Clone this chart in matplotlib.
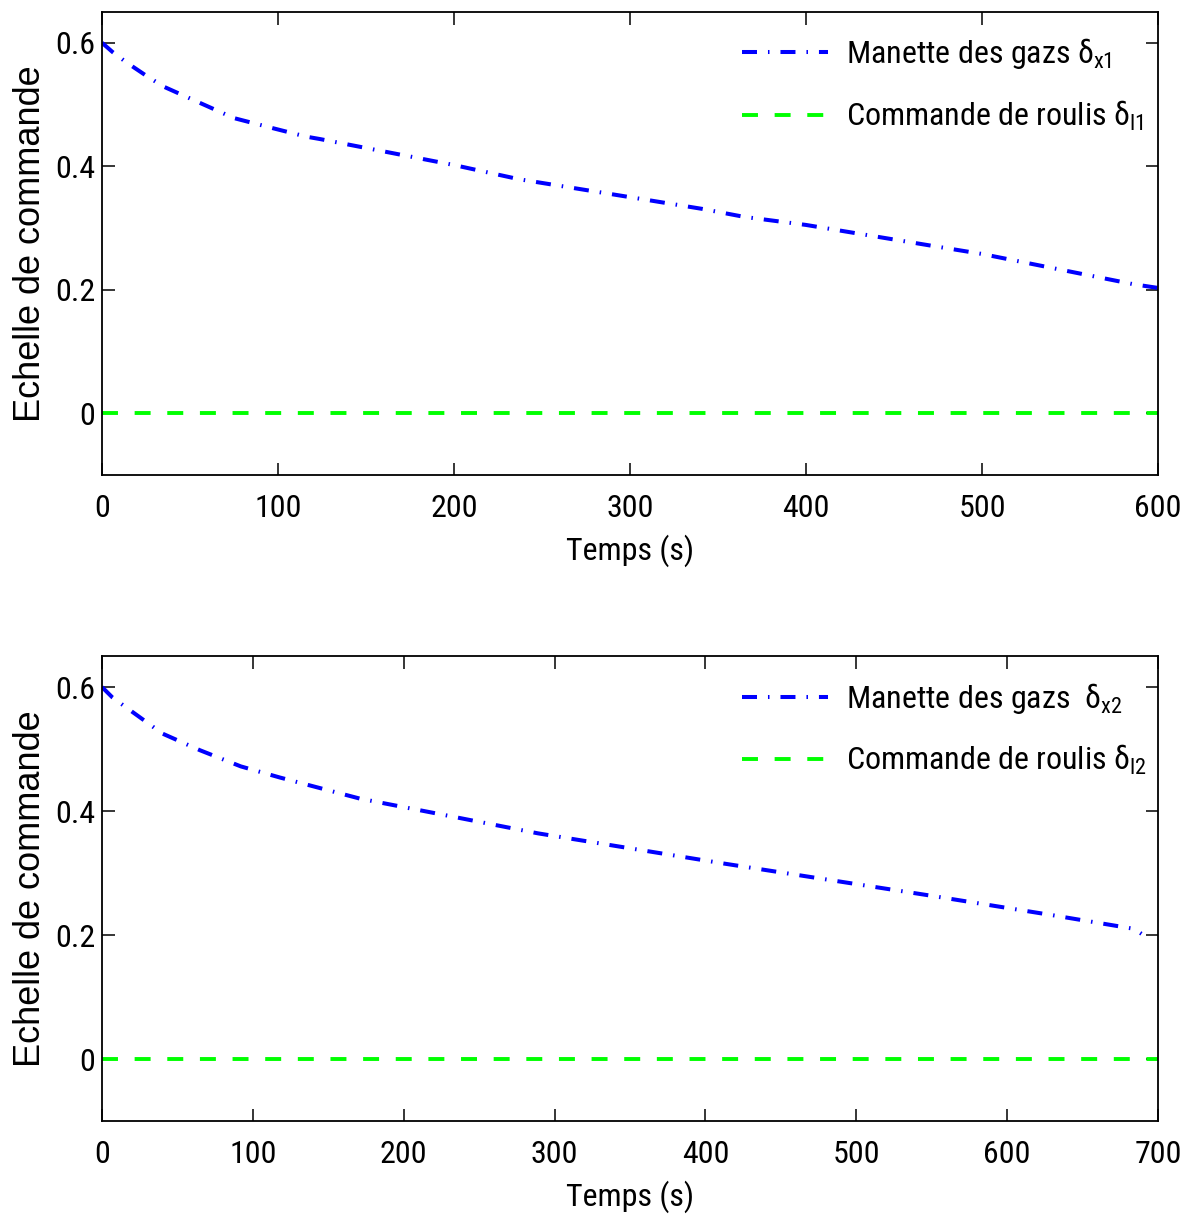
import matplotlib
matplotlib.use("Agg")
import matplotlib.pyplot as plt
from matplotlib import font_manager

_installed = {f.name for f in font_manager.fontManager.ttflist}
_cands = ['Nimbus Sans Narrow', 'Liberation Sans Narrow', 'Arial Narrow', 'Roboto Condensed',
          'PT Sans Narrow', 'Archivo Narrow', 'Fira Sans Condensed', 'IBM Plex Sans Condensed',
          'Liberation Sans']
NARROW = next(c for c in _cands if c in _installed)

plt.rcParams['font.family'] = [NARROW, 'DejaVu Sans']
plt.rcParams['mathtext.fontset'] = 'custom'
plt.rcParams['mathtext.rm'] = NARROW
plt.rcParams['mathtext.it'] = NARROW
plt.rcParams['lines.scale_dashes'] = False

# ---- data: top panel ----
t1 = [0, 6, 14, 26, 35, 53, 75, 98, 116, 124, 200, 237, 300, 341, 365, 400, 472, 500, 586, 600]
gaz1 = [0.600, 0.585, 0.568, 0.545, 0.529, 0.506, 0.478, 0.461, 0.448, 0.444, 0.402, 0.379,
        0.350, 0.331, 0.318, 0.305, 0.271, 0.258, 0.209, 0.203]
roulis1_t = [0, 600]
roulis1 = [0.0, 0.0]

# ---- data: bottom panel ----
t2 = [0, 7, 40, 65, 92, 118, 171, 224, 289, 413, 548, 630, 684, 689]
gaz2 = [0.600, 0.583, 0.525, 0.498, 0.472, 0.454, 0.420, 0.395, 0.364, 0.315, 0.264,
        0.232, 0.210, 0.202]
roulis2_t = [0, 700]
roulis2 = [0.0, 0.0]

yticks = [0, 0.2, 0.4, 0.6]
ytick_labels = ['0', '0.2', '0.4', '0.6']
xticks1 = [0, 100, 200, 300, 400, 500, 600]
xticks2 = [0, 100, 200, 300, 400, 500, 600, 700]

labels1 = [r'Manette des gazs $\delta_{\mathrm{x1}}$', r'Commande de roulis $\delta_{\mathrm{l1}}$']
labels2 = [r'Manette des gazs  $\delta_{\mathrm{x2}}$', r'Commande de roulis $\delta_{\mathrm{l2}}$']

fig = plt.figure(figsize=(11.93, 12.14), dpi=100)
ax1 = fig.add_axes([0.0855, 0.6087, 0.8852, 0.3815])
ax2 = fig.add_axes([0.0855, 0.0766, 0.8852, 0.3830])

FS = 23
blue_dashes = (10.8, 7.9, 1.1, 7.9)
green_dashes = (11.5, 12.0)

def style(ax, t, g, rt, r, xt, xmax, labels):
    ax.plot(t, g, color='#0000ff', lw=2.9, dashes=blue_dashes, label=labels[0])
    ax.plot(rt, r, color='#00ff00', lw=2.8, dashes=green_dashes, label=labels[1])
    ax.set_xlim(0, xmax)
    ax.set_ylim(-0.1, 0.65)
    ax.set_xticks(xt)
    ax.set_xticklabels([str(v) for v in xt])
    ax.set_yticks(yticks)
    ax.set_yticklabels(ytick_labels)
    ax.tick_params(direction='in', length=9, width=1.1, top=True, right=True,
                   labelsize=FS)
    ax.tick_params(axis='x', pad=14)
    ax.tick_params(axis='y', pad=5)
    for s in ax.spines.values():
        s.set_linewidth(1.3)
    ax.set_xlabel('Temps (s)', fontsize=FS, labelpad=8)
    ax.set_ylabel('Echelle de commande', fontsize=26, family=['Liberation Sans', 'DejaVu Sans'])
    ax.yaxis.set_label_coords(-0.051, 0.5)
    ax.legend(loc='upper left', bbox_to_anchor=(0.606, 0.947), frameon=False,
              fontsize=FS, handlelength=2.7, handletextpad=0.55, labelspacing=0.86,
              borderpad=0, borderaxespad=0)

style(ax1, t1, gaz1, roulis1_t, roulis1, xticks1, 600, labels1)
style(ax2, t2, gaz2, roulis2_t, roulis2, xticks2, 700, labels2)

fig.savefig('out.png', dpi=100)
